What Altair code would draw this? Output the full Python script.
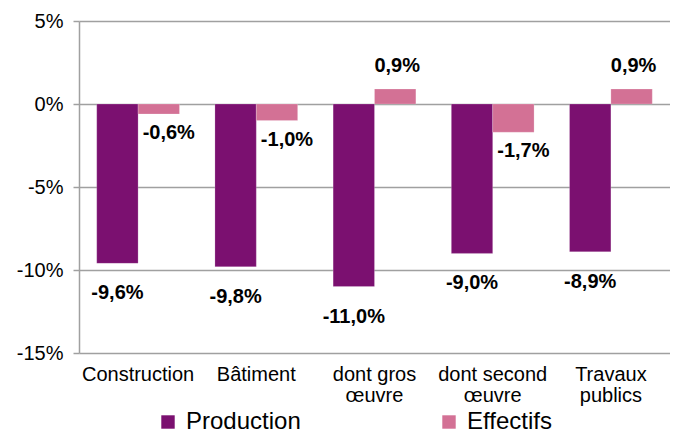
import altair as alt
import pandas as pd

categories = ["Construction", "Bâtiment", "dont gros\nœuvre", "dont second\nœuvre", "Travaux\npublics"]
series = ["Production", "Effectifs"]
production = [-9.6, -9.8, -11.0, -9.0, -8.9]
effectifs = [-0.6, -1.0, 0.9, -1.7, 0.9]
y_ticks = [-15, -10, -5, 0, 5]
colors = ["#7B1070", "#D37195"]

rows = []
for c, p, e in zip(categories, production, effectifs):
    rows.append({"cat": c, "series": "Production", "value": p})
    rows.append({"cat": c, "series": "Effectifs", "value": e})
df = pd.DataFrame(rows)

FONT = "Liberation Sans"

x_enc = alt.X("cat:N", sort=categories, title=None,
              scale=alt.Scale(paddingInner=0.3, paddingOuter=0.15),
              axis=alt.Axis(labelExpr="split(datum.label, '\\n')", labelAngle=0,
                            ticks=False, domain=False, labelFontSize=20,
                            labelFont=FONT, labelColor="#000000", labelPadding=11,
                            labelLineHeight=21, labelBaseline="top"))
xo_enc = alt.XOffset("series:N", sort=series, scale=alt.Scale(paddingInner=0, paddingOuter=0))
y_scale = alt.Scale(domain=[-15, 5], nice=False)

base = alt.Chart(df)

bars = base.mark_bar(stroke="#ffffff", strokeWidth=0.5, strokeOpacity=0.4).encode(
    x=x_enc,
    xOffset=xo_enc,
    y=alt.Y("value:Q", scale=y_scale, title=None,
            axis=alt.Axis(values=y_ticks, labelExpr="datum.value + '%'",
                          grid=True, gridColor="#A0A0A0", gridWidth=1.5,
                          domainColor="#A0A0A0", domainWidth=1.5,
                          tickColor="#A0A0A0", tickSize=6, tickWidth=1.5,
                          labelFontSize=20, labelFont=FONT, labelColor="#000000",
                          labelPadding=10)),
    color=alt.Color("series:N", sort=series,
                    scale=alt.Scale(domain=series, range=colors),
                    legend=alt.Legend(title=None, orient="none", legendX=77, legendY=389,
                                      direction="horizontal", symbolType="square",
                                      symbolSize=180, symbolStrokeWidth=0,
                                      labelFontSize=24, labelFont=FONT, labelColor="#000000",
                                      columnPadding=136, labelOffset=6)),
)

label_calc = "replace(replace(format(datum.value, '.1f'), '.', ','), '\u2212', '-') + '%'"

def labels(filt, dx, dy):
    return base.transform_filter(filt).transform_calculate(lab=label_calc).mark_text(
        fontWeight="bold", fontSize=20, font=FONT, dx=dx, dy=dy,
        baseline="middle", color="#000000").encode(
        x=alt.X("cat:N", sort=categories), xOffset=xo_enc,
        y=alt.Y("value:Q", scale=y_scale), text="lab:N")

prod_labels = labels("datum.series == 'Production'", 0, 30)
eff_neg = labels("datum.series == 'Effectifs' && datum.value < 0", 10, 19)
eff_pos = labels("datum.series == 'Effectifs' && datum.value >= 0", 2, -23)

chart = alt.layer(bars, prod_labels, eff_neg, eff_pos).properties(
    width=591, height=332,
    autosize=alt.AutoSizeParams(type="none"),
    padding={"left": 71, "top": 13, "right": 0, "bottom": 80},
    background="#ffffff",
).configure_view(stroke=None)

chart.save("out.html", embed_options={"renderer": "svg", "actions": False})
